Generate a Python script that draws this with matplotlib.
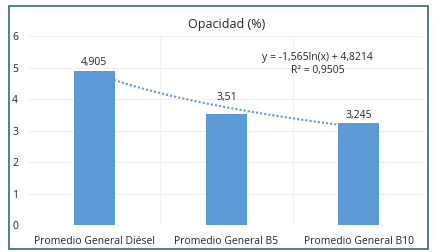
import numpy as np
import matplotlib.pyplot as plt
from matplotlib.patches import Rectangle

categorias = ["Promedio General Diésel", "Promedio General B5", "Promedio General B10"]
valores = [4.905, 3.51, 3.245]
etiquetas = ["4,905", "3,51", "3,245"]
coef_a = -1.565  # tendencia logaritmica
coef_b = 4.8214
ecuacion = "y = -1,565ln(x) + 4,8214"
r2 = "R² = 0,9505"

plt.rcParams['font.family'] = ['Open Sans', 'DejaVu Sans']

fig = plt.figure(figsize=(4.39, 2.52), dpi=100)
ax = fig.add_axes([0.064, 0.107, 0.904, 0.75])

x = np.arange(1, len(valores) + 1)
ax.bar(x, valores, width=0.31, color='#5B9BD5', zorder=3)

# linea de tendencia
tendencia = lambda t: coef_a * np.log(t) + coef_b
xt = np.linspace(1, 3, 100)
ax.plot(xt, tendencia(xt), color='#5B9BD5', linestyle=(0, (1, 1)),
        linewidth=1.5, zorder=2)

# etiquetas por encima de la barra o de la tendencia
for xi, v, t in zip(x, valores, etiquetas):
    ax.text(xi, max(v + 0.06, tendencia(xi) + 0.15), t, ha='center', va='bottom',
            fontsize=7.5, color='#262626')

ax.text(2.69, 4.74, ecuacion + "\n" + r2, ha='center', va='bottom', fontsize=7.5,
        color='#262626', linespacing=1.25)

ax.set_xlim(0.5, 3.5)
ax.set_ylim(0, 6)
ax.set_xticks(x)
ax.set_xticklabels(categorias, fontsize=7.5, color='#262626')
ax.set_yticks(range(7))
ax.tick_params(axis='y', labelsize=7.5, colors='#262626', length=0, pad=11.5)
ax.tick_params(axis='x', length=0, pad=8)
for lbl in ax.get_yticklabels():
    lbl.set_horizontalalignment('left')

ax.grid(axis='y', color='#EFEFEF', linewidth=0.8, zorder=0)
ax.set_xticks([1.5, 2.5], minor=True)
ax.grid(axis='x', which='minor', color='#F2F2F2', linewidth=0.8, zorder=0)
ax.tick_params(axis='x', which='minor', length=0)
for s in ax.spines.values():
    s.set_visible(False)

ax.set_title("Opacidad (%)", fontsize=9, color='#262626', pad=6)

fig.patches.append(Rectangle((9 / 439, 3 / 252), 419 / 439, 243 / 252, transform=fig.transFigure,
                             fill=False, edgecolor='#2F6E6E', linewidth=1.2))

fig.savefig("out.png", dpi=100)
